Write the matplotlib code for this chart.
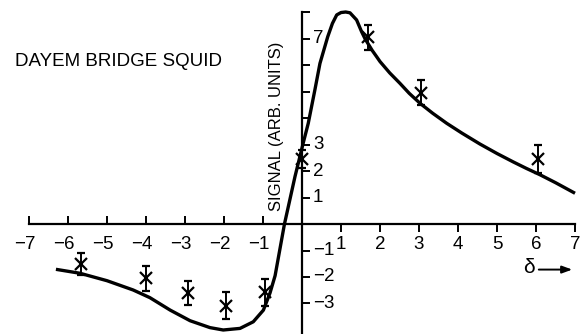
import matplotlib
matplotlib.use("Agg")
import matplotlib.pyplot as plt
from matplotlib.transforms import offset_copy

plt.rcParams['font.family'] = ['Liberation Sans', 'DejaVu Sans']

# measured points (delta, signal) with error bars
pt_x = [-5.67, -4.0, -2.93, -1.95, -0.95, 0.0, 1.7, 3.05, 6.06]
pt_y = [-1.5, -2.05, -2.6, -3.08, -2.58, 2.45, 7.04, 4.96, 2.45]
pt_err = [0.42, 0.47, 0.46, 0.52, 0.51, 0.35, 0.47, 0.47, 0.53]

# theoretical curve
cv_x = [-6.31, -5.69, -5.0, -4.33, -3.9, -3.38, -2.87, -2.36, -2.02, -1.59,
        -1.25, -0.99, -0.82, -0.69, -0.54, -0.45, -0.37, -0.18, 0.03, 0.16,
        0.33, 0.46, 0.66, 0.78, 0.89, 1.0, 1.12, 1.23, 1.4, 1.53, 1.62, 1.8,
        1.92, 2.0, 2.25, 2.51, 2.75, 3.03, 3.35, 3.71, 4.1, 4.56, 5.0, 5.42,
        5.75, 6.1, 6.5, 7.0]
cv_y = [-1.71, -1.86, -2.14, -2.49, -2.78, -3.25, -3.65, -3.91, -4.0, -3.94,
        -3.69, -3.25, -2.6, -1.95, -0.73, 0.0, 0.53, 1.79, 3.05, 3.8,
        5.06, 6.06, 7.07, 7.57, 7.89, 7.98, 8.0, 7.97, 7.7, 7.25, 6.98, 6.55,
        6.3, 6.13, 5.7, 5.31, 4.93, 4.55, 4.18, 3.8, 3.43, 3.02, 2.66, 2.34,
        2.1, 1.86, 1.56, 1.16]

x_ticks_neg = [-7, -6, -5, -4, -3, -2, -1]
x_ticks_pos = [1, 2, 3, 4, 5, 6, 7]
y_ticks = [-3, -2, -1, 1, 2, 3, 4, 5, 6, 7, 8]
y_labels = {-3: "−3", -2: "−2", -1: "−1", 1: "1", 2: "2", 3: "3", 7: "7"}

title = "DAYEM BRIDGE SQUID"
ylabel = "SIGNAL (ARB. UNITS)"

fig = plt.figure(figsize=(5.8, 3.34), dpi=100)
ax = fig.add_axes([0, 0, 1, 1])
ax.set_xlim(-7.744, 7.128)
ax.set_ylim(-4.151, 8.453)
ax.patch.set_alpha(0)

for s in ['top', 'right']:
    ax.spines[s].set_visible(False)
ax.spines['left'].set_position(('data', 0))
ax.spines['bottom'].set_position(('data', 0))
ax.spines['left'].set_bounds(-4.151, 8.0)
ax.spines['bottom'].set_bounds(-7, 7)
ax.spines['left'].set_linewidth(1.6)
ax.spines['bottom'].set_linewidth(1.6)

ax.set_xticks(x_ticks_neg)
ax.set_xticks(x_ticks_pos, minor=True)
ax.tick_params(axis='x', which='major', direction='in', length=6, width=1.4, labelbottom=False)
ax.tick_params(axis='x', which='minor', direction='out', length=6, width=1.4, labelbottom=False)
ax.set_yticks(y_ticks)
ax.tick_params(axis='y', which='major', direction='in', length=6, width=1.4, labelleft=False)

# x tick labels (digit centred on tick)
for v in x_ticks_neg:
    tr = offset_copy(ax.transData, fig=fig, x=5, y=-15, units='points')
    ax.text(v, 0, "−" + str(-v), transform=tr, ha='right', va='center', fontsize=13.5)
for v in x_ticks_pos:
    tr = offset_copy(ax.transData, fig=fig, x=0, y=-15, units='points')
    ax.text(v, 0, str(v), transform=tr, ha='center', va='center', fontsize=13.5)

# y tick labels
for v, lab in y_labels.items():
    tr = offset_copy(ax.transData, fig=fig, x=8, y=0, units='points')
    ax.text(0, v, lab, transform=tr, ha='left', va='center', fontsize=13.5)

# curve
ax.plot(cv_x, cv_y, color='black', lw=2.4, solid_joinstyle='round', solid_capstyle='butt')

# data points
ax.errorbar(pt_x, pt_y, yerr=pt_err, fmt='x', color='black', ms=8, mew=1.6,
            elinewidth=1.4, capsize=3, capthick=1.4)

# labels
fig.text(15 / 580, 1 - 61 / 334, title, ha='left', va='center', fontsize=13.5)
fig.text(276 / 580, 1 - 126 / 334, ylabel, rotation=90, ha='center', va='center', fontsize=12)

ax.text(5.83, -1.65, "δ", ha='center', va='center', fontsize=15)
ax.annotate("", xy=(7.0, -1.72), xytext=(6.0, -1.72),
            arrowprops=dict(arrowstyle='-|>,head_length=0.6,head_width=0.22', color='black', lw=1.4))

fig.savefig("out.png", dpi=100)
